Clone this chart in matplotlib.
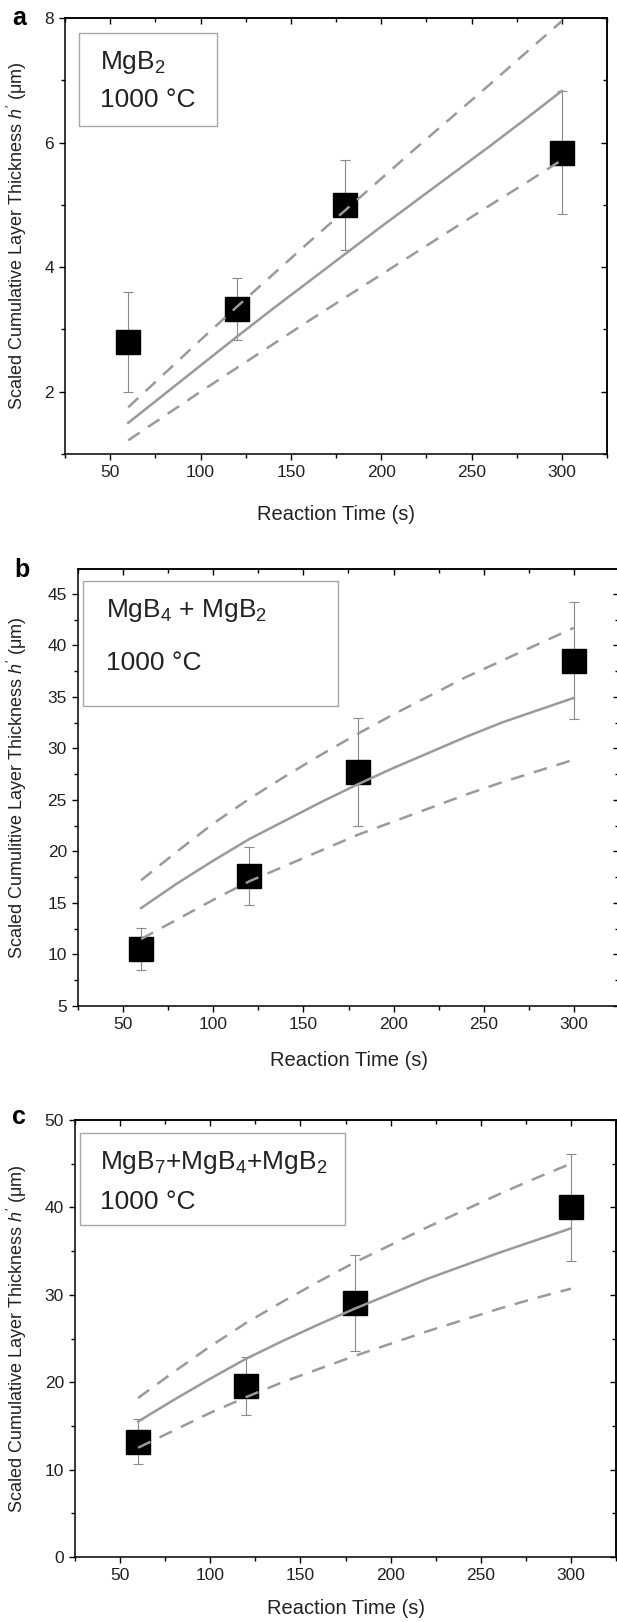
import matplotlib
matplotlib.use("Agg")
import matplotlib.pyplot as plt
import matplotlib.patches as patches
from matplotlib.ticker import MultipleLocator

matplotlib.rcParams['font.family'] = ['Liberation Sans', 'DejaVu Sans']
matplotlib.rcParams['mathtext.fontset'] = 'custom'
matplotlib.rcParams['mathtext.rm'] = 'Liberation Sans'
matplotlib.rcParams['mathtext.it'] = 'Liberation Sans:italic'
matplotlib.rcParams['axes.linewidth'] = 1.1

W, H = 617, 1622

# %% data
t_meas = [60, 120, 180, 300]
t_fit = [60, 80, 100, 120, 140, 160, 180, 200, 220, 240, 260, 280, 300]

a_h = [2.80, 3.33, 5.00, 5.84]
a_err = [0.80, 0.50, 0.72, 0.98]
a_fit = [1.50, 1.96, 2.42, 2.88, 3.33, 3.77, 4.21, 4.65, 5.08, 5.51, 5.94, 6.38, 6.83]
a_hi = [1.75, 2.29, 2.83, 3.36, 3.88, 4.40, 4.91, 5.42, 5.93, 6.43, 6.93, 7.44, 7.95]
a_lo = [1.22, 1.61, 2.00, 2.38, 2.76, 3.14, 3.51, 3.88, 4.25, 4.62, 4.99, 5.35, 5.72]

b_h = [10.5, 17.6, 27.7, 38.5]
b_err = [2.05, 2.8, 5.25, 5.7]
b_fit = [14.5, 16.9, 19.1, 21.2, 23.0, 24.8, 26.5, 28.1, 29.6, 31.1, 32.5, 33.7, 34.9]
b_hi = [17.2, 20.0, 22.7, 25.1, 27.3, 29.4, 31.4, 33.3, 35.1, 36.9, 38.5, 40.1, 41.7]
b_lo = [11.5, 13.4, 15.3, 17.1, 18.6, 20.1, 21.6, 22.9, 24.2, 25.5, 26.7, 27.8, 28.9]

c_h = [13.2, 19.6, 29.1, 40.0]
c_err = [2.6, 3.3, 5.5, 6.1]
c_fit = [15.5, 18.0, 20.4, 22.7, 24.7, 26.6, 28.4, 30.1, 31.8, 33.3, 34.8, 36.2, 37.6]
c_hi = [18.2, 21.2, 24.1, 26.8, 29.2, 31.5, 33.7, 35.7, 37.7, 39.6, 41.5, 43.3, 45.0]
c_lo = [12.5, 14.5, 16.5, 18.3, 20.0, 21.5, 23.0, 24.4, 25.8, 27.1, 28.4, 29.6, 30.7]

ylab = r"Scaled Cumulative Layer Thickness $h'$ (μm)"
ylab_b = r"Scaled Cumulitive Layer Thickness $h'$ (μm)"
xlab = "Reaction Time (s)"

fig = plt.figure(figsize=(W / 100, H / 100), dpi=100)


def px(x, y):
    return x / W, 1 - y / H


def panel(box, xoff, ylim, ymin, yticks, h, err, fit, hi, lo, ylabel, letter, lbox, lines):
    l, t, r, b = box
    ax = fig.add_axes([l / W, 1 - b / H, (r - l) / W, (b - t) / H])
    grey = "#9a9a9a"
    ax.errorbar(t_meas, h, yerr=err, fmt="none", ecolor="#8a8a8a", elinewidth=0.8,
                capsize=3.5, capthick=0.8, zorder=2)
    ax.plot(t_meas, h, ls="none", marker="s", ms=17.5, color="black", zorder=3)
    ax.plot(t_fit, fit, color=grey, lw=1.8, zorder=4)
    ax.plot(t_fit, hi, color=grey, lw=1.8, dashes=(5.5, 4), zorder=4)
    ax.plot(t_fit, lo, color=grey, lw=1.8, dashes=(5.5, 4), zorder=4)
    ax.set_xlim(25, 325)
    ax.set_ylim(*ylim)
    ax.set_xticks([50, 100, 150, 200, 250, 300])
    ax.xaxis.set_minor_locator(MultipleLocator(25))
    ax.set_yticks(yticks)
    ax.yaxis.set_minor_locator(MultipleLocator(ymin))
    ax.tick_params(which="both", direction="out", labelsize=12.5, width=1.0,
                   labelcolor="#222222")
    ax.tick_params(which="major", length=4.5)
    ax.tick_params(which="minor", length=3)
    # mirrored ticks pointing inward
    sx = ax.secondary_xaxis("top")
    sx.set_xticks([50, 100, 150, 200, 250, 300])
    sx.xaxis.set_minor_locator(MultipleLocator(25))
    sx.tick_params(which="both", direction="in", labeltop=False, width=1.0)
    sx.tick_params(which="major", length=4.5)
    sx.tick_params(which="minor", length=3)
    sy = ax.secondary_yaxis("right")
    sy.set_yticks(yticks)
    sy.yaxis.set_minor_locator(MultipleLocator(ymin))
    sy.tick_params(which="both", direction="in", labelright=False, width=1.0)
    sy.tick_params(which="major", length=4.5)
    sy.tick_params(which="minor", length=3)
    ax.set_xlabel(xlab, fontsize=14.5, va="top", color="#222222")
    ax.xaxis.set_label_coords(0.5, -xoff / (b - t))
    ax.set_ylabel(ylabel, fontsize=13, color="#222222")
    ax.yaxis.set_label_coords((29 - l) / (r - l), 0.5)
    # panel letter
    fig.text(*px(letter[0], letter[1]), letter[2], fontsize=18, fontweight="bold",
             ha="center", va="center")
    # label box
    bx0, by0, bx1, by1 = lbox
    fig.add_artist(patches.Rectangle(px(bx0, by1), (bx1 - bx0) / W, (by1 - by0) / H,
                                     transform=fig.transFigure, fill=False,
                                     edgecolor="#a8a8a8", lw=1.0))
    for (tx, ty, s) in lines:
        fig.text(*px(tx, ty), s, fontsize=19, ha="left", va="center", color="#222222")
    return ax


panel((65, 18, 607, 454), 51, (1, 8), 1, [2, 4, 6, 8], a_h, a_err, a_fit, a_hi, a_lo,
      ylab, (19, 18, "a"), (79, 33, 217, 126),
      [(100, 62, "MgB$_2$"), (100, 100, "1000 °C")])

panel((78, 569, 619, 1006), 45, (5, 47.4), 2.5, [5, 10, 15, 20, 25, 30, 35, 40, 45],
      b_h, b_err, b_fit, b_hi, b_lo, ylab_b, (22, 570, "b"), (83, 581, 338, 706),
      [(106, 610, "MgB$_4$ + MgB$_2$"), (106, 663, "1000 °C")])

panel((75, 1120, 616, 1557), 42, (0, 50), 5, [0, 10, 20, 30, 40, 50],
      c_h, c_err, c_fit, c_hi, c_lo, ylab, (19, 1117, "c"), (80, 1133, 345, 1225),
      [(100, 1162, "MgB$_7$+MgB$_4$+MgB$_2$"), (100, 1202, "1000 °C")])

plt.savefig("out.png", dpi=100)
